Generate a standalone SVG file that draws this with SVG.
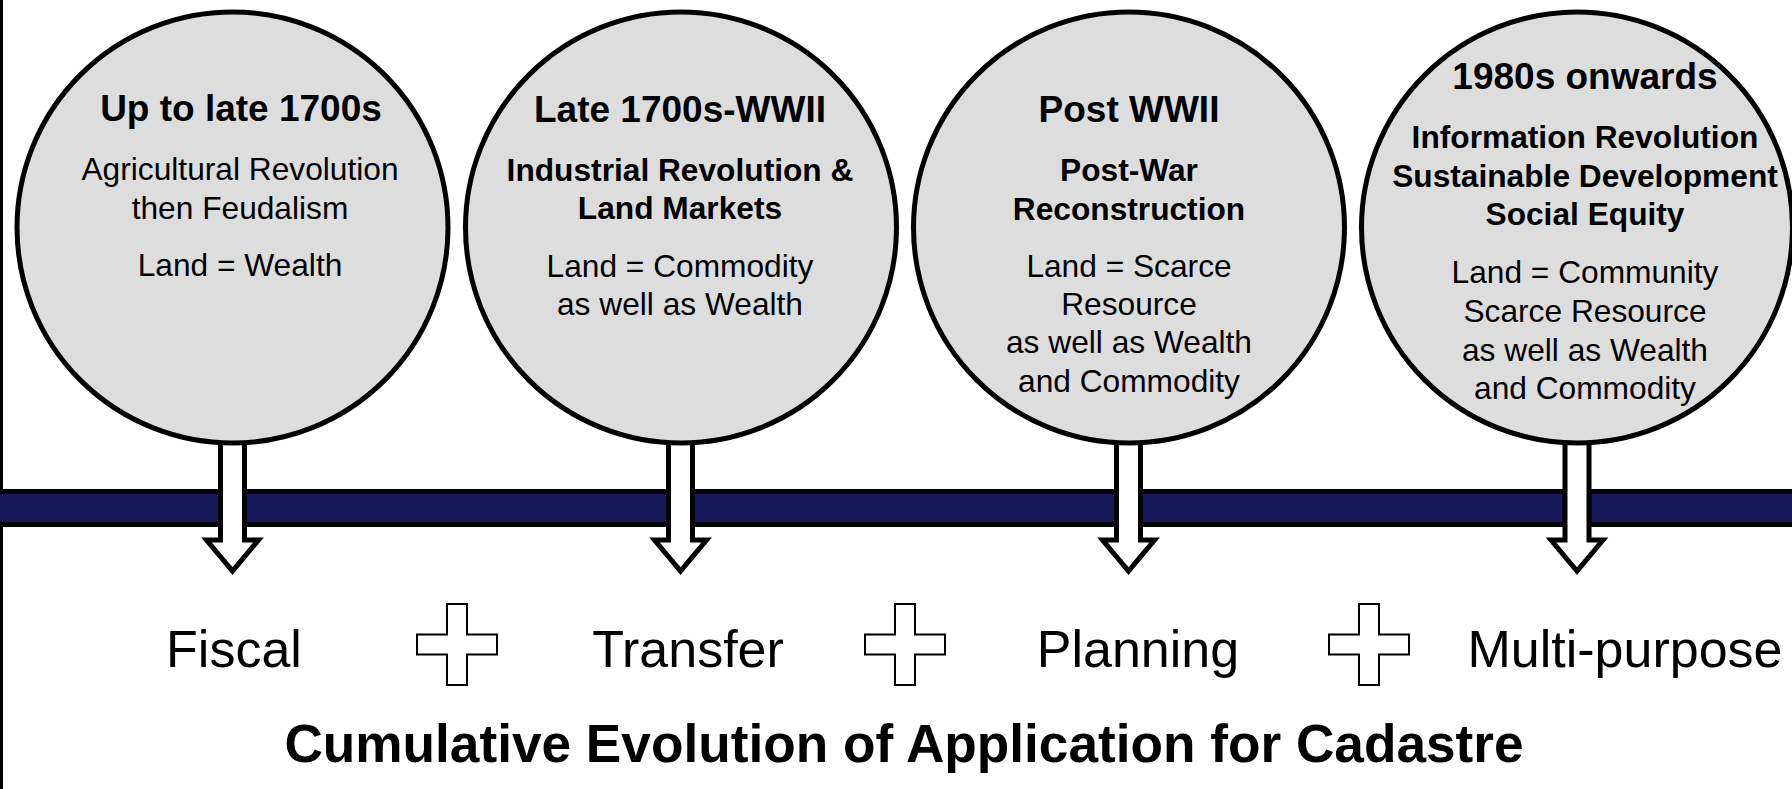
<svg xmlns="http://www.w3.org/2000/svg" xmlns:xlink="http://www.w3.org/1999/xlink" width="1792" height="789" viewBox="0 0 1792 789">
<style>
.circle{fill:#dddddd;stroke:#000;stroke-width:5}
.hd{font-family:"Liberation Sans",Arial,sans-serif;font-weight:bold;font-size:37px;text-anchor:middle;fill:#000}
.sb{font-family:"Liberation Sans",Arial,sans-serif;font-weight:bold;font-size:31.7px;text-anchor:middle;fill:#000}
.tx{font-family:"Liberation Sans",Arial,sans-serif;font-size:31.7px;text-anchor:middle;fill:#000}
.lbl{font-family:"Liberation Sans",Arial,sans-serif;font-size:52px;text-anchor:middle;fill:#000}
.title{font-family:"Liberation Sans",Arial,sans-serif;font-weight:bold;font-size:53.2px;text-anchor:middle;fill:#000}
.arrow{fill:#fff;stroke:#000;stroke-width:5;stroke-miterlimit:10}
.plus{fill:#fff;stroke:#000;stroke-width:2}
</style>
<defs>
<polygon id="arrowShape" class="arrow" points="-12,430 12,430 12,540 26,540 0,571 -26,540 -12,540"/>
<polygon id="plusShape" class="plus" points="-10,-40.5 10,-40.5 10,-10 40,-10 40,10 10,10 10,40.5 -10,40.5 -10,10 -40,10 -40,-10 -10,-10"/>
</defs>
<rect width="1792" height="789" fill="#fff"/>
<line x1="1.5" y1="0" x2="1.5" y2="789" stroke="#000" stroke-width="3"/>
<rect id="timeline" x="-10" y="491.5" width="1812" height="33" fill="#18185a" stroke="#000" stroke-width="5"/>
<g id="connectors">
<use xlink:href="#arrowShape" href="#arrowShape" x="232.5"/>
<use xlink:href="#arrowShape" href="#arrowShape" x="680.5"/>
<use xlink:href="#arrowShape" href="#arrowShape" x="1128.5"/>
<use xlink:href="#arrowShape" href="#arrowShape" x="1577"/>
</g>
<g id="node1">
<circle class="circle" cx="232.5" cy="227.5" r="215.5"/>
<text class="hd" x="241" y="121">Up to late 1700s</text>
<text class="tx" x="240" y="180">Agricultural Revolution</text>
<text class="tx" x="240" y="219">then Feudalism</text>
<text class="tx" x="240" y="276">Land = Wealth</text>
</g>
<g id="node2">
<circle class="circle" cx="681" cy="227.5" r="215.5"/>
<text class="hd" x="680" y="122">Late 1700s-WWII</text>
<text class="sb" x="680" y="181">Industrial Revolution &amp;</text>
<text class="sb" x="680" y="219">Land Markets</text>
<text class="tx" x="680" y="277">Land = Commodity</text>
<text class="tx" x="680" y="315">as well as Wealth</text>
</g>
<g id="node3">
<circle class="circle" cx="1129" cy="227.5" r="215.5"/>
<text class="hd" x="1129" y="122">Post WWII</text>
<text class="sb" x="1129" y="181">Post-War</text>
<text class="sb" x="1129" y="220">Reconstruction</text>
<text class="tx" x="1129" y="277">Land = Scarce</text>
<text class="tx" x="1129" y="315">Resource</text>
<text class="tx" x="1129" y="353">as well as Wealth</text>
<text class="tx" x="1129" y="392">and Commodity</text>
</g>
<g id="node4">
<circle class="circle" cx="1577" cy="227.5" r="215.5"/>
<text class="hd" x="1585" y="89">1980s onwards</text>
<text class="sb" x="1585" y="148">Information Revolution</text>
<text class="sb" x="1585" y="187">Sustainable Development</text>
<text class="sb" x="1585" y="225">Social Equity</text>
<text class="tx" x="1585" y="283">Land = Community</text>
<text class="tx" x="1585" y="322">Scarce Resource</text>
<text class="tx" x="1585" y="361">as well as Wealth</text>
<text class="tx" x="1585" y="399">and Commodity</text>
</g>
<g id="labels">
<text class="lbl" x="234" y="667">Fiscal</text>
<use xlink:href="#plusShape" href="#plusShape" x="457" y="644.5"/>
<text class="lbl" x="688" y="667">Transfer</text>
<use xlink:href="#plusShape" href="#plusShape" x="905" y="644.5"/>
<text class="lbl" x="1138" y="667">Planning</text>
<use xlink:href="#plusShape" href="#plusShape" x="1369" y="644.5"/>
<text class="lbl" x="1625" y="667">Multi-purpose</text>
</g>
<text id="title" class="title" x="904" y="762">Cumulative Evolution of Application for Cadastre</text>
</svg>
